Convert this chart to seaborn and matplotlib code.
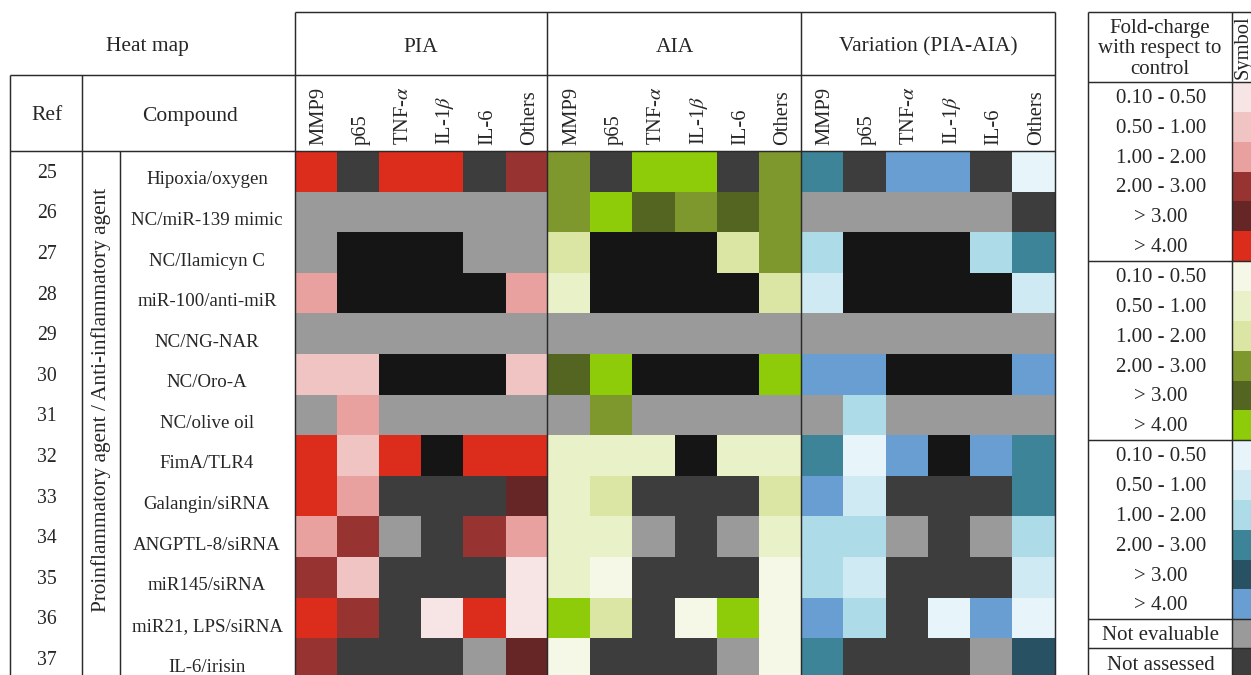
import numpy as np
import pandas as pd
import matplotlib
matplotlib.use("Agg")
import matplotlib.pyplot as plt
from matplotlib.colors import ListedColormap
import seaborn as sns

# ---------------------------------------------------------------- data
refs = [25, 26, 27, 28, 29, 30, 31, 32, 33, 34, 35, 36, 37]
compounds = ["Hipoxia/oxygen", "NC/miR-139 mimic", "NC/Ilamicyn C",
             "miR-100/anti-miR", "NC/NG-NAR", "NC/Oro-A", "NC/olive oil",
             "FimA/TLR4", "Galangin/siRNA", "ANGPTL-8/siRNA", "miR145/siRNA",
             "miR21, LPS/siRNA", "IL-6/irisin"]
markers = ["MMP9", "p65", "TNF-$\\alpha$", "IL-1$\\beta$", "IL-6", "Others"]
panels = ["PIA", "AIA", "Variation (PIA-AIA)"]

# class per cell: 1-6 fold-change bins, 7 not evaluable, 8 not assessed, 0 no measure
pia = [[6, 8, 6, 6, 8, 4],
       [7, 7, 7, 7, 7, 7],
       [7, 0, 0, 0, 7, 7],
       [3, 0, 0, 0, 0, 3],
       [7, 7, 7, 7, 7, 7],
       [2, 2, 0, 0, 0, 2],
       [7, 3, 7, 7, 7, 7],
       [6, 2, 6, 0, 6, 6],
       [6, 3, 8, 8, 8, 5],
       [3, 4, 7, 8, 4, 3],
       [4, 2, 8, 8, 8, 1],
       [6, 4, 8, 1, 6, 1],
       [4, 8, 8, 8, 7, 5]]
aia = [[4, 8, 6, 6, 8, 4],
       [4, 6, 5, 4, 5, 4],
       [3, 0, 0, 0, 3, 4],
       [2, 0, 0, 0, 0, 3],
       [7, 7, 7, 7, 7, 7],
       [5, 6, 0, 0, 0, 6],
       [7, 4, 7, 7, 7, 7],
       [2, 2, 2, 0, 2, 2],
       [2, 3, 8, 8, 8, 3],
       [2, 2, 7, 8, 7, 2],
       [2, 1, 8, 8, 8, 1],
       [6, 3, 8, 1, 6, 1],
       [1, 8, 8, 8, 7, 1]]
variation = [[4, 8, 6, 6, 8, 1],
             [7, 7, 7, 7, 7, 8],
             [3, 0, 0, 0, 3, 4],
             [2, 0, 0, 0, 0, 2],
             [7, 7, 7, 7, 7, 7],
             [6, 6, 0, 0, 0, 6],
             [7, 3, 7, 7, 7, 7],
             [4, 1, 6, 0, 6, 4],
             [6, 2, 8, 8, 8, 4],
             [3, 3, 7, 8, 7, 3],
             [3, 2, 8, 8, 8, 2],
             [6, 3, 8, 1, 6, 1],
             [4, 8, 8, 8, 7, 5]]

fold_bins = ["0.10 - 0.50", "0.50 - 1.00", "1.00 - 2.00",
             "2.00 - 3.00", "> 3.00", "> 4.00"]
extra_labels = ["Not evaluable", "Not assessed"]

red = ["#F7E5E5", "#F1C4C4", "#E8A19F", "#973431", "#672626", "#DC2C1B"]
green = ["#F5F8E7", "#E8F1C8", "#DBE6A4", "#7E982E", "#546522", "#8ECB08"]
blue = ["#E7F5FA", "#CFEAF2", "#AEDBE8", "#3D8499", "#285263", "#699ED2"]
no_measure, not_eval, not_assessed = "#151515", "#9A9A9A", "#3D3D3D"

# combined palette: 0 none, 1-6 red, 7 n.e., 8 n.a., 9-14 green, 15-20 blue
palette = [no_measure] + red + [not_eval, not_assessed] + green + blue
cmap = ListedColormap(palette)
offsets = [0, 8, 14]


def encode(mat, off):
    m = np.asarray(mat)
    return np.where((m >= 1) & (m <= 6), m + off, m)


codes = np.hstack([encode(m, o) for m, o in zip([pia, aia, variation], offsets)])
cols = [f"{p}|{mk}" for p in panels for mk in markers]
heat_df = pd.DataFrame(codes, index=refs, columns=cols)

legend_codes = [1, 2, 3, 4, 5, 6, 9, 10, 11, 12, 13, 14,
                15, 16, 17, 18, 19, 20, 7, 8]
legend_df = pd.DataFrame({"Symbol": legend_codes})

# ---------------------------------------------------------------- layout
W, H = 1251, 675
ROW = 40.6
X0, Y0 = 294.5, 151
CW = 760 / 18
LROW = 29.85
LY0 = 82

sns.set_theme(style="white")
plt.rcParams["font.family"] = ["Liberation Serif", "DejaVu Serif"]
plt.rcParams["mathtext.fontset"] = "stix"

fig = plt.figure(figsize=(W / 100, H / 100), dpi=100)
fig.patch.set_facecolor("white")


def frac_box(x0, y0, w, h):
    return [x0 / W, (H - (y0 + h)) / H, w / W, h / H]


hax = fig.add_axes(frac_box(X0, Y0, 18 * CW, len(refs) * ROW))
sns.heatmap(heat_df, ax=hax, cmap=cmap, vmin=-0.5, vmax=len(palette) - 0.5,
            cbar=False, xticklabels=False, yticklabels=False)
hax.set_xlabel("")
hax.set_ylabel("")
hax.tick_params(length=0)

lax = fig.add_axes(frac_box(1232, LY0, 30, len(legend_codes) * LROW))
sns.heatmap(legend_df, ax=lax, cmap=cmap, vmin=-0.5, vmax=len(palette) - 0.5,
            cbar=False, xticklabels=False, yticklabels=False)
lax.set_xlabel("")
lax.set_ylabel("")

ov = fig.add_axes([0, 0, 1, 1])
ov.set_xlim(0, W)
ov.set_ylim(H, 0)
ov.axis("off")
ov.set_zorder(5)

LC = "#2a2a2a"
LW = 1.05


def hline(y, x0, x1):
    ov.plot([x0, x1], [y, y], color=LC, lw=LW, solid_capstyle="butt")


def vline(x, y0, y1):
    ov.plot([x, x], [y0, y1], color=LC, lw=LW, solid_capstyle="butt")


# table grid
hline(12, X0, 1055)
hline(75, 10, 1055)
hline(151, 10, 1055)
for x in [10, 82]:
    vline(x, 75, H)
vline(120, 151, H)
for x in [X0, 547, 801, 1055]:
    vline(x, 12, H)

# legend grid
vline(1088, 12, H)
vline(1232, 12, H)
for y in [12, 82, 261, 440, 619, 648]:
    hline(y, 1088, W)

FS_HEAD = 15.5
FS_ROW = 13.6
FS_COL = 14.8
FS_LEG = 15

ov.text(147, 47, "Heat map", ha="center", va="center", fontsize=FS_HEAD)
for i, p in enumerate(panels):
    ov.text(X0 + (6 * i + 3) * CW, 47, p, ha="center", va="center", fontsize=FS_HEAD)
ov.text(47, 116, "Ref", ha="center", va="center", fontsize=FS_HEAD)
ov.text(190, 116, "Compound", ha="center", va="center", fontsize=FS_HEAD)

for j in range(18):
    ov.text(X0 + (j + 0.5) * CW + 3, 145, markers[j % 6], rotation=90,
            ha="center", va="bottom", fontsize=FS_COL)

for i, (r, c) in enumerate(zip(refs, compounds)):
    yc = Y0 + (i + 0.5) * ROW
    ov.text(47, yc + 6.5, str(r), ha="center", va="baseline", fontsize=FS_ROW + 0.6)
    ov.text(207, yc + 13, c, ha="center", va="baseline", fontsize=FS_ROW)

ov.text(101, 400, "Proinflammatory agent / Anti-inflammatory agent",
        rotation=90, ha="center", va="center", fontsize=15.3)

# legend texts
for k, line in enumerate(["Fold-charge", "with respect to", "control"]):
    ov.text(1160, 33 + 20.5 * k, line, ha="center", va="baseline", fontsize=FS_LEG)
ov.text(1243, 79, "Symbol", rotation=90, ha="center", va="bottom", fontsize=FS_COL)

legend_labels = fold_bins * 3 + extra_labels
for k, lab in enumerate(legend_labels):
    yc = LY0 + (k + 0.5) * LROW
    ov.text(1161, yc + 6, lab, ha="center", va="baseline", fontsize=FS_LEG)

fig.savefig("out.png", dpi=100, facecolor="white")
